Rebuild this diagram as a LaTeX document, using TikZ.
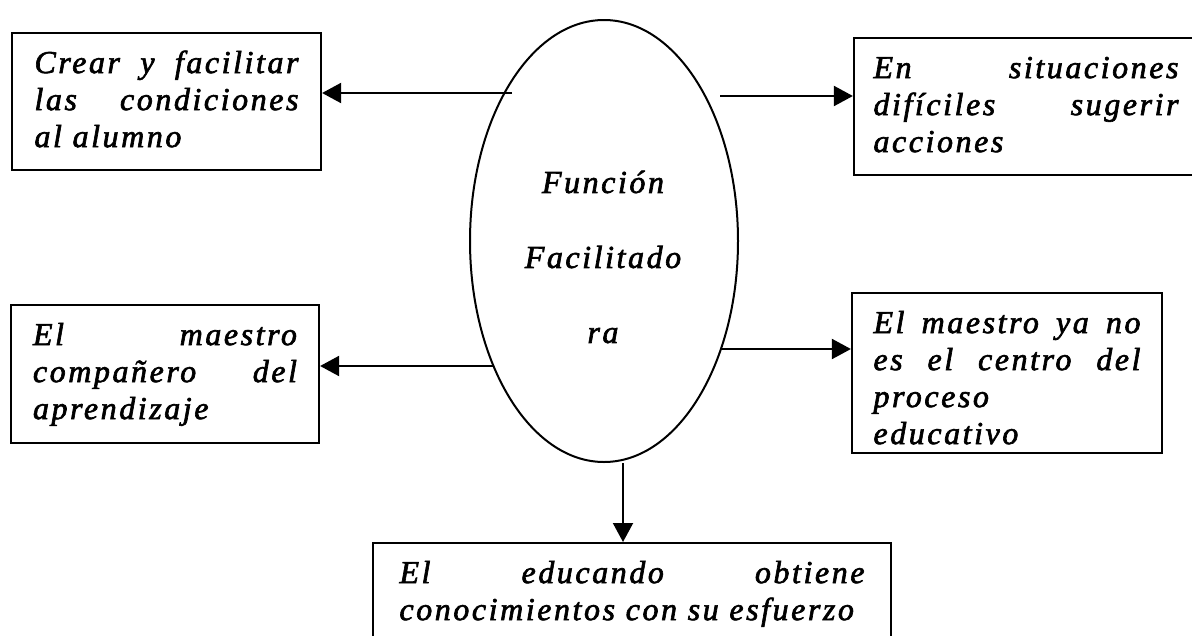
\documentclass[tikz,border=0pt]{standalone}
\usepackage{fontspec}
\newfontfamily\cajafont[LetterSpace=8,FakeBold=2]{Liberation Serif}
\usetikzlibrary{shapes.geometric,arrows.meta}

\begin{document}
\begin{tikzpicture}[x=1pt,y=-1pt,
  caja/.style={draw,line width=2.2pt,rectangle,align=left,inner xsep=0pt,inner ysep=0pt,
    anchor=north,text height=40pt,font=\cajafont\itshape\fontsize{32}{37}\selectfont},
  flecha/.style={line width=2pt,-{Triangle[length=19pt,width=20pt]}}]
  \useasboundingbox (0,0) rectangle (1192,635);
  \node[ellipse,draw,line width=2pt,minimum width=268pt,minimum height=442pt] (fn) at (604,241) {};
  \node[font=\cajafont\itshape\fontsize{32}{75}\selectfont,align=center] (fntxt) at (603,257) {Función\\Facilitado\\ra};
  \node[caja,text width=264pt,minimum width=309pt,text depth=97pt] (crear) at (166.5,32)
    {Crear\hfill y\hfill facilitar\\las\hfill condiciones\\al alumno};
  \node[caja,text width=305pt,minimum width=344pt,text depth=97pt] (situa) at (1026,37)
    {En\hfill situaciones\\difíciles\hfill sugerir\\acciones};
  \node[caja,text width=264pt,minimum width=308pt,text depth=98pt] (compa) at (165,304)
    {El\hfill maestro\\compañero\hfill del\\aprendizaje};
  \node[caja,text width=267pt,minimum width=310pt,text depth=120pt] (centro) at (1007,292)
    {El\hfill maestro\hfill ya\hfill no\\es\hfill el\hfill centro\hfill del\\proceso\\educativo};
  \node[caja,text width=465pt,minimum width=518pt,text depth=100pt] (educa) at (632,542)
    {El\hfill educando\hfill obtiene\\conocimientos con su esfuerzo};
  \coordinate (p1) at (512,93);
  \coordinate (p2) at (720,96);
  \coordinate (p3) at (493,366);
  \coordinate (p4) at (720,349);
  \coordinate (p5) at (623,463);
  \draw[flecha] (p1) -- (p1 -| crear.east);
  \draw[flecha] (p2) -- (p2 -| situa.west);
  \draw[flecha] (p3) -- (p3 -| compa.east);
  \draw[flecha] (p4) -- (p4 -| centro.west);
  \draw[flecha] (p5) -- (p5 |- educa.north);
\end{tikzpicture}
\end{document}
